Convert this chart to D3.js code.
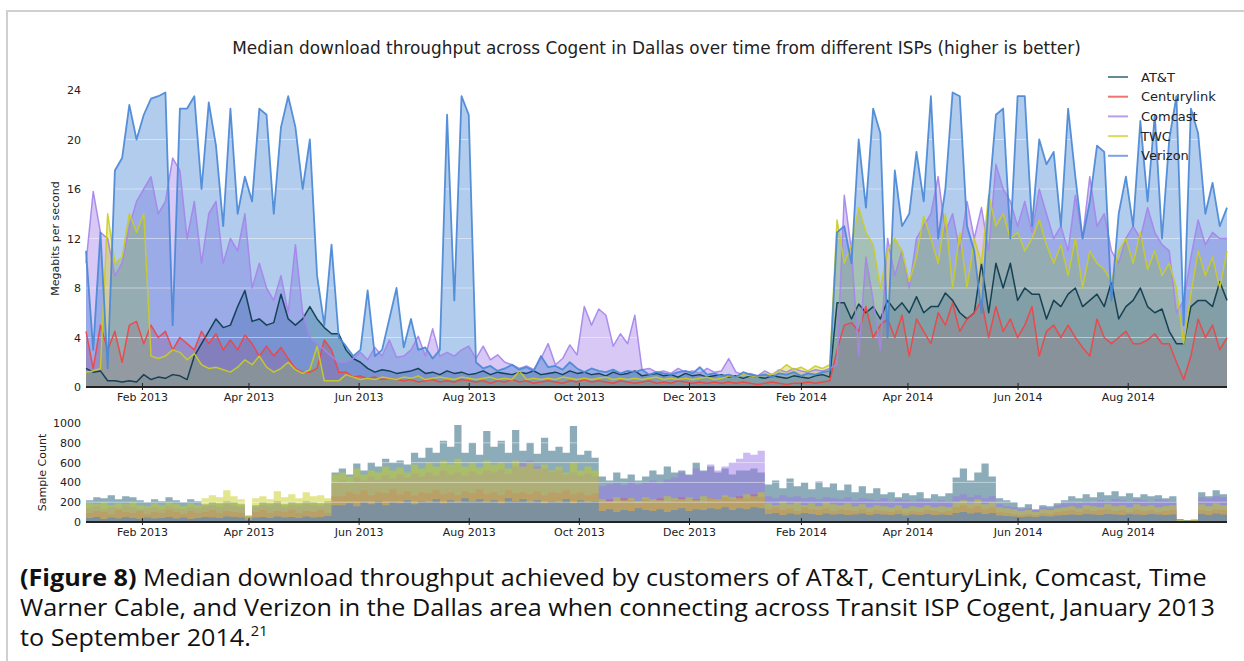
<!DOCTYPE html>
<html>
<head>
<meta charset="utf-8">
<title>Median download throughput across Cogent in Dallas</title>
<script src="https://cdn.jsdelivr.net/npm/d3@7"></script>
<style>
  html, body { margin: 0; padding: 0; background: #fff; }
  svg { display: block; }
  .chart text { font-family: "DejaVu Sans", sans-serif; fill: #222; }
  .caption text { font-family: "Open Sans", sans-serif; fill: #111; }
</style>
</head>
<body>
<svg id="figure" width="1244" height="661"></svg>
<script>
// ---- data (one value every 4 days, starting 2013-01-01) ----
const isps = ["AT&T", "Centurylink", "Comcast", "TWC", "Verizon"];
const firstDay = "2013-01-01";
const lastDay = "2014-09-25";
const stepDays = 4;
const monthTicks = ["2013-02-01", "2013-04-01", "2013-06-01", "2013-08-01", "2013-10-01", "2013-12-01",
                    "2014-02-01", "2014-04-01", "2014-06-01", "2014-08-01"];
const mbpsTicks = [0, 4, 8, 12, 16, 20, 24];
const countTicks = [0, 200, 400, 600, 800, 1000];

// median throughput, Mbps
const attMbps = [
  1.5, 1.2, 1.3, 0.5, 0.5, 0.4, 0.5, 0.4, 1.0, 0.6,
  0.8, 0.7, 1.0, 0.9, 0.6, 2.5, 3.5, 4.5, 5.5, 4.8,
  5, 6.5, 7.8, 5.3, 5.5, 5, 5.2, 7.5, 5.5, 5,
  5.5, 6.5, 5.5, 4.8, 4.3, 4.3, 3, 2.3, 2, 1.5,
  1.2, 1.4, 1.3, 1.1, 1.2, 1.3, 1.5, 1.1, 1.2, 1.0,
  1.3, 1.1, 1.2, 1.0, 1.1, 1.3, 1.0, 1.2, 1.1, 1.0,
  1.2, 1.1, 1.3, 1.0, 1.1, 1.2, 1.0, 1.3, 1.1, 1.2,
  1.0, 1.1, 0.9, 1.2, 1.0, 1.1, 1.3, 0.9, 1.0, 1.1,
  0.9, 1.0, 0.8, 1.1, 0.9, 1.0, 0.8, 0.9, 1.0, 0.8,
  0.9, 0.7, 0.9, 0.8, 0.7, 0.9, 0.8, 0.7, 0.9, 0.8,
  0.7, 0.9, 1.0, 0.8, 6.8, 6.8, 5.5, 6.7, 6, 6.5,
  5.5, 7, 6.2, 6.8, 6, 7.3, 6, 6.5, 6.5, 7.6,
  7, 6, 5.5, 6, 10, 6, 10, 8, 10, 7,
  8, 7.5, 7.5, 5.5, 7, 6.5, 7.5, 8, 6.5, 7,
  7.5, 6.5, 8.5, 5.5, 6.5, 7, 8, 6.5, 6, 6.3,
  4.5, 3.5, 3.5, 6.5, 7, 7, 6.5, 8.5, 7
];
const centurylinkMbps = [
  4.5, 1.5, 5, 3, 4.5, 2, 5, 5.3, 3.5, 5,
  4, 4.5, 3, 4, 3.5, 3, 4.5, 3.5, 4.3, 3,
  3.8, 3, 4.2, 3.5, 2.5, 3.3, 2.5, 3.2, 2.3, 1.5,
  1.2, 1.2, 1.5, 3.8, 3, 1.2, 1.2, 0.8, 0.9, 0.7,
  0.8, 0.6, 0.7, 0.6, 0.5, 0.6, 0.4, 0.5, 0.6, 0.4,
  0.5, 0.4, 0.6, 0.5, 0.4, 0.5, 0.3, 0.5, 0.4, 0.6,
  0.4, 0.5, 0.3, 0.4, 0.5, 0.4, 0.3, 0.5, 0.4, 0.6,
  0.4, 0.5, 0.4, 0.3, 0.5, 0.4, 0.3, 0.4, 0.5, 0.3,
  0.4, 0.3, 0.5, 0.4, 0.3, 0.4, 0.3, 0.4, 0.3, 0.4,
  0.3, 0.4, 0.3, 0.2, 0.3, 0.4, 0.3, 0.2, 0.3, 0.3,
  0.4, 0.3, 0.4, 0.5, 3, 5, 5.2, 4.5, 6.5, 4,
  5, 5.5, 4, 5.8, 2.5, 5.5, 4.5, 3.5, 6, 5,
  6.8, 4.5, 5.5, 6, 7, 4, 6.5, 4.5, 5.5, 4,
  5, 6.5, 2.5, 4.5, 5, 4, 5, 4, 3.2, 2.5,
  5.5, 4, 3.5, 4, 4.5, 3.5, 3.5, 3.8, 4.3, 3.5,
  3.5, 2, 0.6, 2.5, 5.5, 4, 5, 3, 4
];
const comcastMbps = [
  10, 15.8, 12.5, 12, 9, 10, 13, 15, 16, 17,
  14, 15, 18.5, 17.5, 12, 15, 10, 14, 15, 10,
  12, 11, 14, 8, 10, 8, 7, 9, 6, 11.5,
  6, 4, 3.5, 3, 2.5, 2, 2, 2.3, 2.8, 2.2,
  3.2, 2.5, 3.8, 2.4, 2.5, 3, 4.1, 2.5, 4.7, 2.5,
  2.8, 2.5, 3, 3.3, 2.3, 3.3, 2.2, 2.6, 2.0, 1.8,
  1.5, 1.7, 1.4, 2.3, 3.5, 1.8, 2.3, 3.4, 2.6, 6.5,
  5.0, 6.3, 5.8, 3.3, 4.3, 3.5, 5.8, 1.4, 1.5, 1.2,
  1.3, 1.1, 1.5, 1.2, 1.3, 1.1, 1.5, 1.2, 1.3, 2.3,
  1.2, 1.0, 1.1, 0.9, 1.3, 1.0, 1.4, 1.2, 1.5, 1.3,
  1.2, 1.4, 1.3, 1.5, 1.8, 15.5, 11, 2.5, 10.5, 7,
  3, 12, 9, 11, 8, 12, 13, 14, 17, 12.5,
  14, 11, 15, 12, 14.5, 11, 18, 16, 15, 13,
  15, 12.5, 16, 14, 12, 13, 11, 15.5, 12, 17,
  13, 14, 11, 10, 12, 13, 12, 14.5, 12.5, 11.5,
  11, 6, 7, 10.5, 13.5, 11.5, 12.5, 12, 12
];
const twcMbps = [
  1.2, 1.3, 1.5, 14, 10, 10.5, 14, 12.5, 14, 2.5,
  2.3, 2.5, 3, 2.8, 2.2, 2.7, 1.8, 1.5, 1.6, 1.4,
  1.2, 1.6, 2.2, 1.8, 2.5, 1.6, 1.2, 1.5, 2.0, 1.4,
  1.1, 1.4, 3.3, 0.5, 0.5, 0.5, 1.0, 0.8, 0.6, 0.7,
  0.6, 0.8, 0.7, 0.6, 0.8, 0.7, 0.9, 0.6, 0.7, 0.8,
  0.7, 0.6, 0.8, 0.7, 0.6, 0.7, 0.8, 0.6, 0.7, 0.6,
  1.3, 0.6, 0.7, 0.6, 0.7, 0.6, 0.8, 0.7, 0.6, 0.7,
  0.6, 0.7, 0.8, 0.6, 0.7, 0.6, 0.7, 0.6, 0.7, 0.8,
  0.6, 0.7, 0.6, 0.7, 0.6, 0.7, 0.8, 0.6, 0.7, 0.9,
  0.8, 1.0, 0.9, 0.8, 1.1, 1.0, 1.3, 1.8, 1.4, 1.6,
  1.3, 1.7, 1.5, 1.8, 13.5, 10, 11.5, 14.5, 12.5, 11.5,
  8, 11, 12, 11, 8.5, 10.5, 13.8, 12, 10, 14,
  8, 12.5, 8, 12, 10, 15.5, 13, 14, 12, 12.5,
  11, 12, 13.5, 11.5, 10, 11.5, 9, 12, 8, 11,
  10, 9.5, 8.5, 11, 12, 10, 12.5, 9.5, 11, 9,
  10, 8, 3.5, 7.5, 11, 9, 10.5, 8, 11
];
const verizonMbps = [
  11, 3, 12.5, 1.5, 17.5, 18.5, 22.8, 20, 22, 23.3,
  23.5, 23.8, 5, 22.5, 22.5, 23.5, 16, 23, 19.5, 13,
  22.5, 14, 17, 15, 22.5, 22, 14, 21, 23.5, 21,
  16, 20, 9, 5, 11.5, 4, 3.3, 2.5, 3, 7.8,
  2.5, 3, 5.5, 8, 3.2, 5.5, 3, 3.2, 2.3, 3,
  22, 7, 23.5, 22, 2, 1.5, 1.7, 1.3, 1.5, 1.8,
  1.4, 1.6, 1.3, 2.5, 1.6, 1.7, 1.4, 2.0, 1.5, 1.2,
  1.5, 1.3, 1.2, 1.4, 1.1, 1.3, 1.2, 1.4, 1.0, 1.2,
  1.1, 1.0, 1.2, 1.3, 1.1, 1.6, 1.0, 1.1, 0.9, 1.0,
  0.8, 1.2, 1.0, 0.9, 1.0, 0.8, 1.1, 1.0, 1.2, 0.9,
  1.1, 1.0, 1.2, 1.3, 12.5, 13, 10, 20, 14.5, 22.5,
  20.5, 4, 17.5, 13, 14, 19, 15, 23.5, 12, 16,
  23.8, 23.5, 13, 11, 6, 15, 22, 22.5, 12, 23.5,
  23.5, 13, 20, 18, 19, 13, 22.5, 17, 12, 15,
  19.5, 19, 7, 14, 17, 13, 21.5, 15, 22, 12,
  20, 23.5, 5, 22.5, 20.5, 14, 16.5, 13, 14.5
];

// sample counts
const attSamples = [
  220, 250, 240, 270, 230, 260, 250, 220, 200, 230,
  210, 250, 220, 200, 230, 210, 180, 200, 190, 210,
  200, 180, 60, 170, 200, 190, 210, 180, 200, 190,
  210, 200, 190, 210, 500, 540, 480, 590, 520, 600,
  560, 640, 600, 620, 580, 700, 650, 750, 700, 820,
  760, 980, 700, 800, 680, 920, 760, 820, 700, 930,
  720, 800, 690, 850, 720, 760, 700, 970, 680, 720,
  650, 460, 420, 500, 440, 480, 420, 460, 520, 480,
  560, 500, 520, 480, 600, 520, 560, 500, 540, 480,
  520, 520, 540, 500, 380, 420, 340, 440, 360, 400,
  330, 410, 350, 390, 320, 380, 300, 360, 290, 340,
  280, 300, 250, 290, 270, 300, 240, 280, 260, 290,
  450, 540, 420, 500, 590, 460, 240, 220, 200, 150,
  180, 130, 170, 160, 190, 220, 260, 240, 280, 250,
  300, 270, 310, 260, 290, 250, 280, 260, 270, 240,
  260, 30, 20, 25, 300, 260, 320, 280, 300
];
const centurylinkSamples = [
  90, 110, 100, 80, 120, 100, 90, 110, 80, 100,
  90, 120, 100, 80, 110, 90, 100, 120, 90, 110,
  100, 90, 40, 100, 120, 90, 110, 100, 120, 90,
  110, 100, 120, 90, 260, 260, 300, 280, 320, 270,
  300, 290, 330, 280, 310, 270, 300, 290, 320, 280,
  300, 270, 310, 290, 330, 280, 300, 270, 320, 290,
  300, 280, 310, 270, 300, 290, 320, 280, 300, 270,
  290, 210, 230, 200, 240, 220, 190, 230, 210, 240,
  200, 220, 250, 210, 230, 200, 240, 220, 250, 230,
  260, 240, 280, 250, 130, 150, 120, 140, 110, 150,
  130, 120, 140, 110, 130, 120, 110, 130, 100, 120,
  110, 100, 120, 90, 110, 100, 120, 110, 100, 110,
  150, 170, 140, 160, 130, 150, 100, 90, 80, 70,
  80, 70, 90, 80, 100, 110, 120, 100, 130, 110,
  120, 130, 110, 120, 100, 130, 110, 120, 100, 110,
  120, 10, 10, 15, 120, 110, 130, 120, 110
];
const comcastSamples = [
  140, 160, 130, 150, 140, 170, 150, 130, 140, 150,
  130, 160, 140, 130, 150, 140, 160, 170, 150, 180,
  160, 150, 50, 150, 170, 160, 180, 150, 170, 160,
  180, 170, 160, 180, 400, 420, 400, 450, 420, 460,
  430, 470, 440, 480, 450, 490, 460, 500, 470, 520,
  480, 500, 470, 510, 480, 520, 500, 530, 490, 560,
  600, 620, 560, 540, 500, 520, 480, 500, 470, 490,
  460, 360, 380, 400, 370, 410, 380, 400, 420, 390,
  430, 450, 500, 470, 540, 510, 580, 520, 560, 600,
  640, 700, 680, 720, 260, 240, 270, 250, 260, 240,
  250, 230, 250, 240, 230, 250, 220, 240, 230, 220,
  240, 210, 230, 220, 210, 230, 220, 210, 220, 210,
  260, 280, 250, 270, 240, 260, 180, 160, 150, 130,
  140, 120, 150, 140, 170, 190, 200, 190, 210, 200,
  220, 210, 230, 220, 210, 230, 220, 210, 230, 220,
  210, 15, 10, 15, 250, 240, 260, 250, 240
];
const twcSamples = [
  190, 180, 200, 170, 190, 180, 200, 170, 160, 190,
  170, 200, 180, 160, 190, 170, 240, 270, 250, 320,
  260, 230, 70, 240, 260, 230, 310, 250, 280, 240,
  300, 260, 270, 240, 480, 500, 460, 540, 480, 520,
  500, 560, 520, 550, 500, 580, 540, 600, 560, 620,
  580, 640, 560, 600, 550, 620, 580, 600, 540, 620,
  560, 600, 540, 580, 520, 560, 500, 600, 520, 560,
  520, 230, 210, 250, 220, 240, 210, 250, 230, 220,
  260, 240, 230, 250, 220, 260, 240, 230, 270, 250,
  240, 280, 260, 300, 190, 170, 210, 180, 200, 170,
  190, 160, 200, 180, 170, 190, 160, 180, 150, 170,
  160, 150, 170, 140, 160, 150, 170, 150, 160, 150,
  200, 220, 190, 230, 180, 200, 150, 140, 130, 110,
  120, 100, 130, 120, 140, 150, 160, 140, 170, 160,
  150, 180, 160, 170, 150, 180, 160, 170, 150, 160,
  170, 20, 15, 20, 180, 160, 190, 170, 180
];
const verizonSamples = [
  40, 50, 30, 45, 35, 50, 40, 30, 45, 35,
  40, 50, 35, 45, 30, 40, 50, 45, 40, 55,
  50, 45, 20, 45, 50, 40, 55, 45, 50, 40,
  55, 45, 50, 60, 170, 170, 190, 160, 200, 180,
  210, 170, 200, 190, 220, 180, 210, 200, 230, 190,
  220, 200, 240, 210, 230, 200, 220, 190, 240, 210,
  230, 200, 220, 190, 210, 200, 230, 190, 220, 200,
  210, 110, 130, 100, 120, 110, 140, 120, 110, 130,
  100, 120, 140, 110, 130, 120, 140, 130, 150, 120,
  140, 130, 150, 140, 80, 90, 70, 85, 75, 90,
  80, 70, 85, 75, 80, 70, 75, 85, 70, 80,
  75, 70, 80, 65, 75, 70, 80, 70, 75, 70,
  90, 100, 85, 95, 80, 90, 65, 60, 55, 50,
  55, 50, 60, 55, 65, 70, 75, 70, 80, 75,
  70, 80, 75, 70, 80, 75, 70, 80, 75, 70,
  75, 5, 5, 10, 80, 70, 85, 75, 80
];

const titleText = "Median download throughput across Cogent in Dallas over time from different ISPs (higher is better)";
const captionLines = [
  ["(Figure 8)", " Median download throughput achieved by customers of AT&T, CenturyLink, Comcast, Time"],
  ["", "Warner Cable, and Verizon in the Dallas area when connecting across Transit ISP Cogent, January 2013"],
  ["", "to September 2014."]
];
const footnote = "21";

// ---- drawing ----
const mbps = {
  "AT&T": attMbps, "Centurylink": centurylinkMbps, "Comcast": comcastMbps,
  "TWC": twcMbps, "Verizon": verizonMbps
};
const samples = {
  "AT&T": attSamples, "Centurylink": centurylinkSamples, "Comcast": comcastSamples,
  "TWC": twcSamples, "Verizon": verizonSamples
};
const color = {
  "AT&T": "#1b5a74", "Centurylink": "#ec3535", "Comcast": "#9a76e6",
  "TWC": "#c8cd1e", "Verizon": "#3f7fd3"
};
const lineColor = {
  "AT&T": "#0c3a4c", "Centurylink": "#ee4545", "Comcast": "#a585ea",
  "TWC": "#c9cd24", "Verizon": "#4a88d6"
};

const parse = d3.utcParse("%Y-%m-%d");
const t0 = parse(firstDay);
const dayAt = i => d3.utcDay.offset(t0, i * stepDays);

const left = 86, right = 1227;
const x = d3.scaleUtc().domain([t0, parse(lastDay)]).range([left, right]);
const yTop = d3.scaleLinear().domain([0, 24]).range([387, 90]);
const yBot = d3.scaleLinear().domain([0, 1000]).range([522, 423]);

const svg = d3.select("#figure");

// frame around the figure
svg.append("rect")
  .attr("x", 7).attr("y", 11)
  .attr("width", 1250).attr("height", 700)
  .attr("fill", "#fff")
  .attr("stroke", "#d0d0d0")
  .attr("stroke-width", 2);

const chart = svg.append("g").attr("class", "chart");

chart.append("text")
  .attr("x", (left + right) / 2)
  .attr("y", 54)
  .attr("text-anchor", "middle")
  .style("font-size", "16.9px")
  .text(titleText);

function drawAxes(y, yTicks, baseY, yLabel, labelX) {
  const gx = chart.append("g")
    .attr("transform", `translate(0,${baseY})`)
    .call(d3.axisBottom(x)
      .tickValues(monthTicks.map(parse))
      .tickFormat(d3.utcFormat("%b %Y"))
      .tickSizeOuter(0));
  gx.attr("font-family", null).attr("font-size", null);
  gx.select(".domain").remove();
  gx.selectAll(".tick line").attr("y1", -4).attr("y2", 3).attr("stroke", "#222");
  gx.selectAll(".tick text").attr("y", 6).style("font-size", "11px");

  chart.append("line")
    .attr("x1", left).attr("x2", right)
    .attr("y1", baseY).attr("y2", baseY)
    .attr("stroke", "#222").attr("stroke-width", 2);

  const gy = chart.append("g")
    .attr("transform", `translate(${left},0)`)
    .call(d3.axisLeft(y).tickValues(yTicks).tickFormat(d3.format("d")).tickSize(0).tickPadding(5));
  gy.attr("font-family", null).attr("font-size", null);
  gy.select(".domain").remove();
  gy.selectAll(".tick text").style("font-size", "11px");

  const yMid = (y.range()[0] + y.range()[1]) / 2;
  chart.append("text")
    .attr("transform", `translate(${labelX},${yMid}) rotate(-90)`)
    .attr("text-anchor", "middle")
    .style("font-size", "11px")
    .text(yLabel);
}

function drawGrid(g, y, ticks) {
  g.selectAll(null)
    .data(ticks.slice(1))
    .join("line")
    .attr("x1", left).attr("x2", right)
    .attr("y1", d => y(d)).attr("y2", d => y(d))
    .attr("stroke", "#fff")
    .attr("stroke-opacity", 0.45)
    .attr("stroke-width", 1);
}

// top panel: throughput
const topPanel = chart.append("g");
const topArea = d3.area()
  .x((d, i) => x(dayAt(i)))
  .y0(yTop(0))
  .y1(d => yTop(d));
const topLine = d3.line()
  .x((d, i) => x(dayAt(i)))
  .y(d => yTop(d));

isps.forEach(k => {
  topPanel.append("path")
    .datum(mbps[k])
    .attr("d", topArea)
    .attr("fill", color[k])
    .attr("fill-opacity", 0.4);
});
drawGrid(topPanel, yTop, mbpsTicks);
isps.forEach(k => {
  topPanel.append("path")
    .datum(mbps[k])
    .attr("d", topLine)
    .attr("fill", "none")
    .attr("stroke", lineColor[k])
    .attr("stroke-width", k === "Verizon" ? 1.8 : 1.5)
    .attr("stroke-opacity", 0.92)
    .attr("stroke-linejoin", "round");
});
drawAxes(yTop, mbpsTicks, 387, "Megabits per second", 59);

// legend
const legend = chart.append("g").attr("transform", "translate(1108,77)");
isps.forEach((k, i) => {
  const row = legend.append("g").attr("transform", `translate(0,${i * 19.7})`);
  row.append("line")
    .attr("x1", 0).attr("x2", 20)
    .attr("stroke", color[k])
    .attr("stroke-opacity", 0.7)
    .attr("stroke-width", 2);
  row.append("text")
    .attr("x", 33)
    .attr("dy", "0.36em")
    .style("font-size", "13px")
    .text(k);
});

// bottom panel: sample count
const bottomPanel = chart.append("g");
const botArea = d3.area()
  .curve(d3.curveStepAfter)
  .x((d, i) => x(dayAt(i)))
  .y0(yBot(0))
  .y1(d => yBot(d));
isps.forEach(k => {
  bottomPanel.append("path")
    .datum(samples[k])
    .attr("d", botArea)
    .attr("fill", color[k])
    .attr("fill-opacity", 0.5);
});
drawGrid(bottomPanel, yBot, countTicks);
drawAxes(yBot, countTicks, 522, "Sample Count", 46);

// caption: one horizontal squeeze for all lines so line 1 spans the box
const caption = svg.append("g").attr("class", "caption");
const capLines = captionLines.map((parts, i) => {
  const t = caption.append("text")
    .attr("x", 0)
    .attr("y", 586 + i * 30)
    .style("font-size", "24px");
  if (parts[0]) t.append("tspan").style("font-weight", "bold").text(parts[0]);
  t.append("tspan").text(parts[1]);
  if (i === captionLines.length - 1) {
    t.append("tspan").attr("dy", -10).style("font-size", "14px").text(footnote);
  }
  return t;
});
const squeeze = 1187 / capLines[0].node().getComputedTextLength();
caption.attr("transform", `translate(20,0) scale(${squeeze},1)`);
</script>
</body>
</html>
